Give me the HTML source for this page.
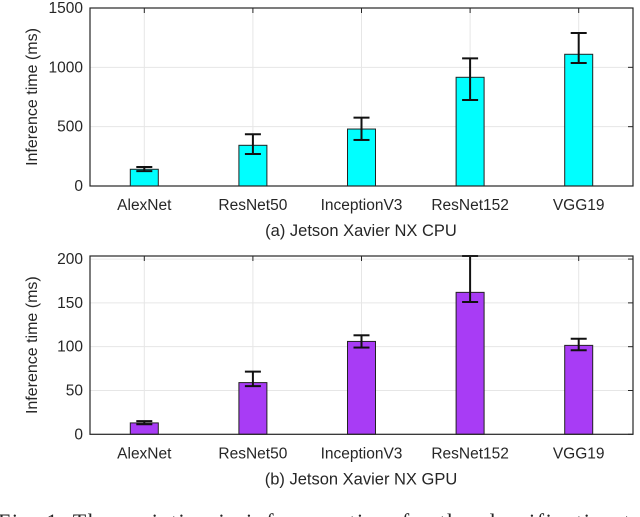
<!DOCTYPE html>
<html><head><meta charset="utf-8"><style>
body{margin:0;background:#fff;width:640px;height:517px;overflow:hidden}
svg{display:block}
text{font-family:"Liberation Sans",sans-serif;fill:#262626}
</style></head><body>
<svg id="svg" width="640" height="517"></svg>
<script>
const categories=["AlexNet","ResNet50","InceptionV3","ResNet152","VGG19"];
const cpuValues=[141,343,480,916,1110];
const cpuLow=[125,270,388,725,1037];
const cpuHigh=[160,436,576,1076,1289];
const cpuTicks=[0,500,1000,1500];
const gpuValues=[13,59,106,162,101.5];
const gpuLow=[11.5,55,99,151,96];
const gpuHigh=[15,71.5,113,205,109];
const gpuTicks=[0,50,100,150,200];
const NS="http://www.w3.org/2000/svg";
const svg=document.getElementById('svg');
function mk(tag,attrs,parent,txt){const e=document.createElementNS(NS,tag);for(const k in attrs)e.setAttribute(k,attrs[k]);if(txt!=null)e.textContent=txt;(parent||svg).appendChild(e);return e;}
function chart(cfg){
 const L=90,R=633,T=cfg.top,B=cfg.bottom;
 const g=mk('g',{});
 
 
 const x=i=>L+(i+0.5)*(R-L)/categories.length;
 const y=v=>B-(v/cfg.ymax)*(B-T);
 mk('rect',{x:L,y:T,width:R-L,height:B-T,fill:'#fff'},g);
 cfg.ticks.forEach(t=>{
  const gl=mk('line',{x1:L,x2:R,y1:y(t),y2:y(t),stroke:'#e6e6e6','stroke-width':1},g);
  
  mk('line',{x1:R-5,x2:R,y1:y(t),y2:y(t),stroke:'#262626'},g);
  const tl=mk('text',{x:L-7,y:y(t)+5,'text-anchor':'end','font-size':15.5},g,t);
  
 });
 categories.forEach((c,i)=>{
  mk('line',{x1:x(i),x2:x(i),y1:T,y2:B,stroke:'#e6e6e6'},g);
  mk('line',{x1:x(i),x2:x(i),y1:T,y2:T+5,stroke:'#262626'},g);
  const tl=mk('text',{x:x(i),y:B+24,'text-anchor':'middle','font-size':15.5},g,c);
  
 });
 categories.forEach((c,i)=>{
  const v=cfg.values[i];
  const b=mk('rect',{x:x(i)-14,y:y(v),width:28,height:B-y(v),fill:cfg.color,stroke:'#222','stroke-width':1},g);
  
  const hi=Math.min(cfg.high[i],cfg.ymax);
  const eg=mk('g',{stroke:'#111','stroke-width':2},g);
  
  mk('line',{x1:x(i),x2:x(i),y1:y(hi),y2:y(cfg.low[i])},eg);
  mk('line',{x1:x(i)-8,x2:x(i)+8,y1:y(hi),y2:y(hi)},eg);
  mk('line',{x1:x(i)-8,x2:x(i)+8,y1:y(cfg.low[i]),y2:y(cfg.low[i])},eg);
 });
 mk('rect',{x:L,y:T,width:R-L,height:B-T,fill:'none',stroke:'#262626','stroke-width':1.2},g);
 const yl=mk('text',{transform:`translate(37,${(T+B)/2}) rotate(-90)`,'text-anchor':'middle','font-size':16},g,'Inference time (ms)');
 
 const st=mk('text',{x:361,y:B+50,'text-anchor':'middle','font-size':16.5},g,cfg.title);
 
}
chart({name:'cpu-chart',top:8,bottom:186,ymax:1500,ticks:cpuTicks,values:cpuValues,low:cpuLow,high:cpuHigh,color:'#00ffff',title:'(a) Jetson Xavier NX CPU'});
chart({name:'gpu-chart',top:256,bottom:434.3,ymax:203.5,ticks:gpuTicks,values:gpuValues,low:gpuLow,high:gpuHigh,color:'#a83cf5',title:'(b) Jetson Xavier NX GPU'});
const cap=mk('text',{x:-2,y:529,'font-size':22,'letter-spacing':'1.6',style:'font-family:"Liberation Serif",serif','xml:space':'preserve'},svg,'Fig.  1.   The variation in inference time for the classification task');


</script>
</body></html>
